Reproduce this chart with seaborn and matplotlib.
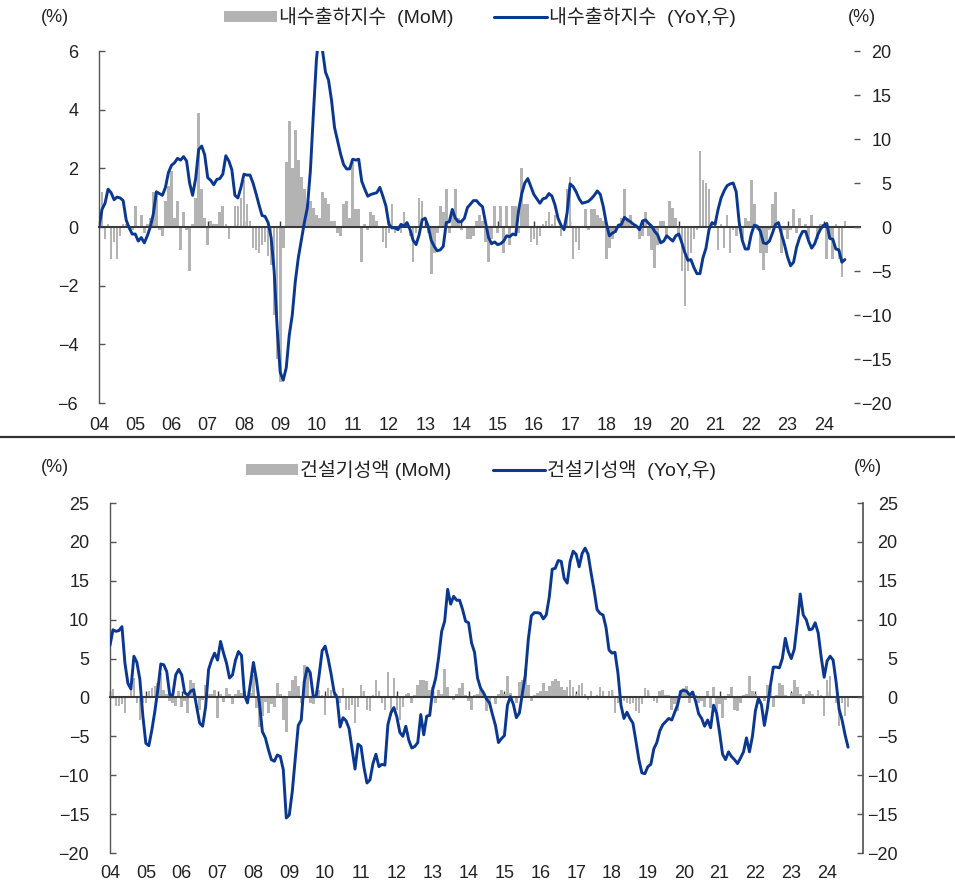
import numpy as np
import pandas as pd
import matplotlib
matplotlib.use("Agg")
import matplotlib.pyplot as plt
import seaborn as sns
from matplotlib.patches import Patch
from matplotlib.lines import Line2D

# ---------------- data (monthly, Jan 2004 - Aug 2024) ----------------
start_year = 2004
year_labels = ["04", "05", "06", "07", "08", "09", "10", "11", "12", "13", "14",
               "15", "16", "17", "18", "19", "20", "21", "22", "23", "24"]

ship_mom = [
    0.4, 1.2, -0.4, 0.1, -1.1, -0.5, -1.1, -0.3, 0.1, 0.1, -0.1, -0.1,
    0.7, 0.0, 0.4, -0.2, 0.1, 0.3, 1.2, 1.2, -0.1, -0.3, 0.9, 1.4,
    1.9, 0.3, 0.9, -0.8, 0.5, -0.1, -1.5, 0.1, 1.0, 3.9, 1.3, 0.3,
    -0.6, 0.2, 0.1, 0.1, 0.5, 0.7, 0.1, -0.4, 0.0, 0.7, 0.7, 1.0,
    1.6, 0.8, 0.2, -0.7, -0.8, -0.9, -0.6, -0.5, -1.0, -1.3, -3.0, -4.5,
    -5.3, -0.7, 2.2, 3.6, 2.0, 3.3, 2.3, 1.7, 1.3, 0.8, 0.9, 0.65,
    0.4, 0.3, 1.2, 1.0, 0.8, 0.2, 0.2, -0.2, -0.3, 0.8, 0.9, 0.3,
    2.2, 0.6, 0.6, -1.2, 0.1, -0.1, 0.5, 0.4, 0.2, 0.0, -0.5, -0.7,
    -0.2, 0.8, -0.2, -0.1, -0.2, 0.5, 0.1, -0.3, -1.2, -0.2, 1.0, 0.9,
    0.0, -0.2, -1.6, -0.9, -0.2, 0.7, 0.5, 1.3, -0.2, 0.4, 1.3, 0.3,
    -0.1, 0.0, -0.4, -0.4, -0.3, 0.2, 0.4, 0.2, -0.5, -1.2, -0.4, 0.7,
    -0.2, 0.7, -0.9, 0.7, -0.6, 0.7, 0.7, -0.2, 2.0, 0.8, 0.8, -0.5,
    -0.4, -0.6, -0.3, 0.1, 0.2, 0.5, 0.1, 0.4, 0.0, -0.3, 0.0, 1.3,
    1.7, -1.1, -0.5, -0.8, 0.0, 0.6, -0.1, 0.6, 0.6, 0.4, 0.3, 0.2,
    -1.1, -0.7, -0.4, -0.2, 0.0, 0.3, 1.3, 0.3, 0.4, 0.0, 0.0, -0.4,
    -0.3, 0.5, -0.3, -0.8, -1.4, -0.6, 0.2, 0.2, -0.3, 0.9, 0.65, 0.3,
    -0.25, -1.5, -2.7, -1.5, -0.9, -0.4, -0.1, 2.6, 1.6, 1.5, 1.3, 0.1,
    0.1, -0.8, 0.1, -0.7, 0.4, -0.9, -0.1, -0.3, 0.1, -0.4, 0.3, 0.2,
    1.6, 0.8, -0.1, -0.9, -1.45, -0.9, -0.1, 0.8, 1.2, 0.0, -0.9, -0.1,
    -0.4, -0.1, 0.6, -0.2, 0.3, 0.0, 0.1, -0.4, 0.4, 0.0, -0.4, 0.1,
    0.1, -1.1, -0.4, -1.1, 0.1, -1.1, -1.7, 0.2,
]

ship_yoy = [
    0.0, 2.0, 2.7, 4.3, 3.9, 3.1, 3.4, 3.3, 3.0, 0.8, -0.1, -0.8,
    -0.8, -1.6, -1.2, -1.8, -1.0, 0.0, 1.5, 4.0, 3.8, 3.6, 4.5, 6.2,
    7.0, 7.3, 7.8, 7.6, 8.0, 7.5, 5.0, 3.6, 5.5, 8.8, 9.2, 8.2,
    5.6, 5.3, 4.8, 5.4, 5.5, 6.0, 8.1, 7.5, 6.5, 3.6, 3.3, 4.5,
    6.0, 5.9, 5.9, 5.0, 3.8, 2.5, 1.3, 1.2, 0.5, -1.2, -5.0, -11.5,
    -16.5, -17.4, -16.0, -12.3, -10.0, -6.2, -3.5, -1.5, 0.5, 2.2, 6.4, 12.9,
    19.0, 22.5, 20.1, 17.6, 16.7, 14.4, 11.3, 9.8, 8.3, 7.1, 6.6, 6.6,
    7.7, 7.6, 7.7, 5.2, 4.3, 3.5, 3.7, 3.8, 3.9, 4.5, 3.5, 2.4,
    0.3, -0.1, -0.1, -0.3, 0.3, 0.1, 0.5, -0.3, -1.5, -2.0, -0.9, 0.8,
    1.0, 0.1, -1.5, -2.2, -2.7, -2.6, -2.2, 0.5, 0.6, 2.0, 1.0, 0.6,
    0.6, 1.0, 2.2, 2.6, 3.0, 3.0, 2.6, 2.3, 0.5, -1.2, -1.9, -1.7,
    -2.0, -1.9, -1.6, -1.0, -1.1, -0.8, -0.9, 2.0, 3.8, 5.0, 5.5, 4.6,
    3.7, 3.2, 2.7, 3.2, 3.3, 3.8, 3.5, 2.5, 1.0, 0.2, -0.3, 1.6,
    4.9, 4.6, 4.0, 3.2, 2.7, 2.8, 2.9, 3.2, 3.6, 4.1, 3.7, 2.3,
    0.4, -1.0, -0.7, -0.5, 0.2, 0.3, 1.1, 0.8, 0.6, 0.3, 0.1, -0.3,
    0.7, 0.8, 0.4, 0.1, -0.5, -0.9, -1.8, -1.6, -1.0, -1.3, -1.6, -1.0,
    -0.8, -1.8, -2.9, -3.8, -3.7, -4.6, -5.3, -5.3, -3.5, -2.4, -0.3, 0.5,
    0.3, 2.0, 3.3, 4.1, 4.7, 4.9, 5.0, 4.0, 0.5, -1.5, -2.5, -2.5,
    -0.8, 0.2, 0.1, -0.5, -1.8, -1.9, -1.6, -0.7, 0.3, 0.5, -0.8, -2.0,
    -3.4, -4.4, -4.0, -2.3, -1.2, -0.5, -0.5, -1.6, -2.4, -1.9, -0.9, -0.2,
    0.2, 0.4, -1.3, -1.4, -2.5, -2.6, -4.0, -3.7,
]

cons_mom = [
    2.0, 1.1, -1.1, -1.1, -0.9, -2.0, 0.1, 0.9, 2.5, -0.7, -2.9, -0.7,
    -0.7, 0.8, 1.2, 1.5, 1.8, 3.2, 1.0, 0.5, -0.5, -0.7, -1.1, 0.8,
    -1.2, -0.5, -2.0, 2.3, 1.9, 0.2, -1.6, -0.3, 1.6, 0.5, 0.4, 1.0,
    -2.7, 0.5, -0.6, 1.2, 0.5, -0.9, 0.5, 1.0, 0.6, 0.8, -0.7, 0.6,
    2.9, -1.4, -3.8, -2.4, -0.6, -2.0, -0.8, -1.2, 1.9, 0.5, -2.9, -4.5,
    0.8, 2.3, 2.7, 1.5, -0.7, 4.2, 3.8, -0.7, -0.9, 0.8, 1.0, 0.3,
    -2.2, 1.2, 1.0, 0.9, 0.4, -0.7, 1.2, -1.6, -1.6, -1.0, -3.3, -1.2,
    1.6, 0.8, -1.6, -1.8, 0.3, 2.3, 0.8, -0.7, -1.6, 3.3, -2.4, 2.5,
    -1.6, -2.9, -1.2, 0.5, 0.6, -0.7, 0.3, 1.6, 2.3, 2.3, 2.1, 1.0,
    1.4, -0.7, 1.0, 0.5, 3.6, 1.4, -0.1, -0.3, 0.5, 1.2, 1.8, 0.3,
    -0.5, -1.6, 0.3, 0.5, 1.0, 0.5, -1.8, -0.7, -0.1, -0.9, 0.5, 1.0,
    0.4, 2.7, 0.6, 0.1, -0.7, 2.0, 2.3, 3.6, 1.6, -0.5, 0.3, 0.6,
    0.8, 1.8, 0.8, 1.5, 2.1, 2.4, 2.1, 1.4, 0.9, 1.4, 2.2, 1.4,
    0.5, 1.6, 1.9, 0.5, -0.3, 0.8, 0.2, 0.3, 1.3, 0.8, 0.1, 0.8,
    1.0, -2.0, -0.7, 0.1, -0.4, -0.7, -0.9, -0.7, -1.8, -2.0, -0.9, 1.2,
    1.0, 0.1, -0.4, -0.7, 0.8, 1.0, 0.3, 0.3, -1.6, -0.9, -1.8, 0.8,
    1.2, 1.5, -0.7, 0.8, 0.3, -0.7, -0.5, -1.2, 0.8, -1.4, 1.4, -1.8,
    -0.9, -2.7, -0.3, 0.5, 1.3, -1.6, -1.8, -0.7, 0.3, 0.5, 2.7, 0.8,
    0.5, -0.9, 0.2, -0.5, 1.6, 1.2, -1.2, 0.3, 1.9, 1.6, 0.3, -0.1,
    0.6, 2.2, 1.4, 0.5, -0.9, 0.5, 0.8, 0.5, 0.1, 1.0, 0.3, -2.4,
    2.3, 2.7, 0.1, -0.7, -3.7, -0.7, -2.4, -1.2,
]

cons_yoy = [
    6.7, 8.7, 8.5, 8.6, 9.1, 4.4, 1.8, 1.1, 5.3, 4.5, 2.3, -2.4,
    -5.9, -6.2, -4.2, -1.8, 1.0, 4.3, 4.2, 3.3, 0.3, 0.3, 2.9, 3.6,
    2.9, 0.6, 0.3, 0.8, 1.0, -1.2, -3.3, -3.7, -1.2, 3.6, 4.8, 5.7,
    4.8, 7.2, 5.7, 4.4, 2.5, 2.9, 4.8, 5.9, 5.4, 0.3, -0.7, 1.8,
    4.5, 2.3, -0.7, -4.4, -5.2, -6.7, -8.0, -8.2, -7.4, -7.6, -9.3, -15.5,
    -15.1, -12.1, -7.8, -3.6, -2.9, 2.0, 3.8, 3.2, 0.2, 0.1, 2.9, 6.0,
    6.6, 5.0, 3.0, 0.7, -0.1, -3.8, -2.6, -3.0, -4.0, -6.6, -9.2, -6.0,
    -6.3, -9.0, -11.0, -10.6, -8.5, -7.3, -8.9, -8.6, -8.7, -3.5, -2.0, -1.3,
    -2.5, -4.5, -5.0, -3.7, -5.5, -6.5, -6.3, -5.8, -2.2, -4.8, -2.4, -2.3,
    1.0, 2.5, 5.2, 8.5, 9.8, 13.9, 12.0, 13.0, 12.5, 12.5, 11.3, 9.8,
    9.6, 7.0, 5.8, 2.5, 1.2, 0.6, -0.2, -0.7, -2.2, -3.6, -5.8, -5.3,
    -4.9, -1.0, 0.1, -0.9, -2.6, -2.0, 0.5, 2.9, 7.5, 10.5, 10.9, 10.9,
    10.8, 10.1, 10.6, 12.9, 16.5, 16.6, 17.6, 17.5, 15.3, 14.7, 17.5, 18.8,
    18.4, 16.8, 18.5, 19.2, 18.4, 16.0, 13.8, 11.3, 10.8, 10.6, 9.0, 6.1,
    5.7, 5.8, 3.1, -1.0, -2.7, -1.9, -2.7, -3.3, -5.6, -8.0, -9.7, -9.8,
    -8.9, -8.6, -6.6, -5.8, -4.3, -3.5, -3.1, -2.7, -2.9, -1.9, -0.9, 0.8,
    0.9, 0.8, 0.3, 0.7, -0.5, -2.1, -2.7, -3.7, -2.9, -3.9, -1.0, -2.0,
    -4.5, -7.3, -8.0, -7.0, -7.6, -8.0, -8.5, -7.8, -7.0, -5.2, -7.0, -5.0,
    -1.7, -0.1, -0.9, -3.6, -1.4, 1.5, 3.9, 3.9, 3.8, 5.0, 7.6, 5.9,
    5.0, 6.2, 9.5, 13.3, 10.6, 10.0, 8.7, 8.8, 9.6, 8.3, 5.2, 2.6,
    4.7, 5.3, 4.8, 2.0, -1.5, -2.9, -4.8, -6.4,
]

top_labels = ["내수출하지수  (MoM)", "내수출하지수  (YoY,우)"]
bot_labels = ["건설기성액 (MoM)", "건설기성액  (YoY,우)"]

# ---------------- style ----------------
sns.set_theme(style="white")
plt.rcParams["font.family"] = ["Liberation Sans", "Noto Sans CJK KR", "DejaVu Sans"]
plt.rcParams["axes.unicode_minus"] = True

GRAY = "#b3b3b3"
NAVY = "#0a3791"
AXC = "#555555"
TXT = "#222222"
W, H = 955, 886

fig = plt.figure(figsize=(W / 100, H / 100), dpi=100)


def fx(px):
    return px / W


def fy(py):
    return 1 - py / H


def panel(box, mom, yoy, lim_l, ticks_l, lim_r, ticks_r, labels, right_spine, rpad,
          pct_left, pct_right, leg_xy, xpad):
    x0, y0, x1, y1 = box
    ax = fig.add_axes([fx(x0), fy(y1), fx(x1 - x0), (y1 - y0) / H])
    ax2 = ax.twinx()
    n = len(mom)
    xs = start_year + np.arange(n) / 12.0
    df = pd.DataFrame({"date": xs, "mom": mom, "yoy": yoy})

    sns.barplot(data=df, x="date", y="mom", native_scale=True, width=0.88,
                color=GRAY, saturation=1, errorbar=None, linewidth=0, ax=ax)
    sns.lineplot(data=df, x="date", y="yoy", color=NAVY, linewidth=2.1, ax=ax2)

    years = np.arange(start_year, start_year + len(year_labels))
    ax.set_xlim(start_year, start_year + 21)
    ax.set_ylim(*lim_l)
    ax.set_yticks(ticks_l)
    ax2.set_ylim(*lim_r)
    ax2.set_yticks(ticks_r)
    for a in (ax, ax2):
        a.set_xlabel("")
        a.set_ylabel("")
        a.grid(False)

    # zero line = bottom spine at y = 0 with year ticks pointing up
    ax.spines["bottom"].set_position(("data", 0))
    ax.spines["bottom"].set_color("#3a3a3a")
    ax.spines["bottom"].set_linewidth(1.5)
    ax.spines["top"].set_visible(False)
    ax.spines["right"].set_visible(False)
    ax.spines["left"].set_color(AXC)
    ax.spines["left"].set_linewidth(1.0)
    ax.set_xticks(years)
    ax.tick_params(axis="x", direction="in", length=4, width=1, color="#3a3a3a",
                   labelbottom=False, bottom=True)
    ax.tick_params(axis="y", direction="in", length=4, width=1, color=AXC,
                   pad=15, labelsize=13, labelcolor=TXT, left=True)

    for s in ("top", "left", "bottom"):
        ax2.spines[s].set_visible(False)
    ax2.spines["right"].set_visible(right_spine)
    ax2.spines["right"].set_color(AXC)
    ax2.tick_params(axis="y", direction="in", length=4, width=1, color=AXC,
                    pad=rpad, labelsize=13, labelcolor=TXT, right=True)
    for t in ax2.get_yticklabels():
        t.set_horizontalalignment("right")

    sec = ax.secondary_xaxis(0.0)
    sec.set_xticks(years, labels=year_labels)
    sec.tick_params(length=0, pad=xpad, labelsize=13, labelcolor=TXT)
    for s in sec.spines.values():
        s.set_visible(False)

    fig.text(fx(pct_left[0]), fy(pct_left[1]), "(%)", ha="center", va="center",
             fontsize=13, color=TXT)
    fig.text(fx(pct_right[0]), fy(pct_right[1]), "(%)", ha="center", va="center",
             fontsize=13, color=TXT)

    handles = [Patch(facecolor=GRAY, edgecolor="none"),
               Line2D([0], [0], color=NAVY, linewidth=2.2)]
    fig.legend(handles, labels, loc="center", bbox_to_anchor=(fx(leg_xy[0]), fy(leg_xy[1])),
               ncol=2, frameon=False, fontsize=14, handlelength=2.7, handleheight=0.5,
               handletextpad=0.12, columnspacing=2.1, labelcolor=TXT)
    return ax, ax2


panel((99, 51, 860, 403), ship_mom, ship_yoy, (-6, 6), np.arange(-6, 7, 2),
      (-20, 20), np.arange(-20, 21, 5), top_labels, False, 22.5,
      (55, 17), (862, 17), (480, 17), 10)

panel((110, 503, 863, 853), cons_mom, cons_yoy, (-20, 25), np.arange(-20, 26, 5),
      (-20, 25), np.arange(-20, 26, 5), bot_labels, True, 25,
      (55, 467), (868, 467), (481, 470), 9)

fig.add_artist(Line2D([0, 1], [fy(437), fy(437)], transform=fig.transFigure,
                      color="#333333", linewidth=1.6))

fig.savefig("out.png", dpi=100)
